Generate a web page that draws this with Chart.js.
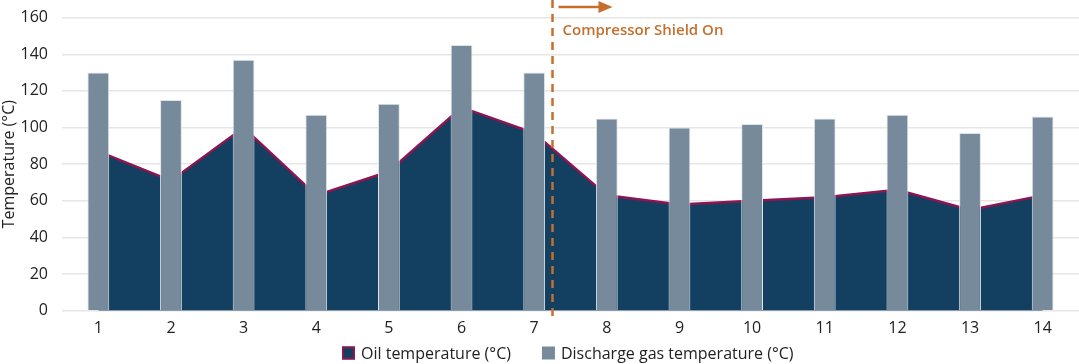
<!DOCTYPE html>
<html>
<head>
<meta charset="utf-8">
<script src="https://cdn.jsdelivr.net/npm/chart.js@4"></script>
<style>
  html, body { margin: 0; padding: 0; background: #fff; overflow: hidden; }
  #wrap { position: relative; top: -6px; width: 1079px; height: 370px; }
</style>
</head>
<body>
<div id="wrap"><canvas id="mycanvas"></canvas></div>
<script>
var days = ['1','2','3','4','5','6','7','8','9','10','11','12','13','14'];
var oilTemp = [87, 71, 100, 63, 76, 111, 97, 63, 58, 60, 62, 66, 55, 63];
var gasTemp = [130, 115, 137, 107, 113, 145, 130, 105, 100, 102, 105, 107, 97, 106];
var yTicks = [0, 20, 40, 60, 80, 100, 120, 140, 160];
var shieldAt = 6.25; // index position of the "shield on" marker
var shieldLabel = 'Compressor Shield On';

var orange = '#c56f2d';
var shift = 6; // canvas is moved up by 6px

var shieldPlugin = {
  id: 'shield',
  afterDatasetsDraw: function(chart) {
    var ctx = chart.ctx;
    var x = Math.round(chart.scales.x.getPixelForValue(shieldAt)) + 0.5;
    var top = shift;
    ctx.save();
    ctx.strokeStyle = orange;
    ctx.lineWidth = 2.5;
    ctx.setLineDash([8, 6]);
    ctx.beginPath();
    ctx.moveTo(x, top);
    ctx.lineTo(x, top + 322);
    ctx.stroke();
    ctx.setLineDash([]);
    // arrow
    ctx.beginPath();
    ctx.moveTo(x + 6, top + 7);
    ctx.lineTo(x + 48, top + 7);
    ctx.stroke();
    ctx.fillStyle = orange;
    ctx.beginPath();
    ctx.moveTo(x + 60, top + 7);
    ctx.lineTo(x + 46, top + 1);
    ctx.lineTo(x + 46, top + 13);
    ctx.closePath();
    ctx.fill();
    ctx.font = '600 15px "Open Sans"';
    ctx.textBaseline = 'middle';
    ctx.fillText(shieldLabel, x + 10, top + 31);
    ctx.restore();
  }
};

// legend drawn by hand so the gap between the two entries can be wider
var legendPlugin = {
  id: 'bottomLegend',
  afterDraw: function(chart) {
    var ctx = chart.ctx;
    var sets = chart.data.datasets;
    var box = 13, textGap = 6, itemGap = 31;
    var y = shift + 353;
    ctx.save();
    ctx.font = '16px "Open Sans"';
    ctx.textBaseline = 'middle';
    var widths = sets.map(function(ds) { return ctx.measureText(ds.label).width; });
    var total = 0;
    widths.forEach(function(w, i) { total += box + textGap + w + (i ? itemGap : 0); });
    var x = Math.round((chart.chartArea.left + chart.chartArea.right) / 2 - total / 2) - 3;
    sets.forEach(function(ds, i) {
      ctx.fillStyle = ds.backgroundColor;
      ctx.fillRect(x, y - box / 2, box, box);
      if (ds.type === 'line') {
        ctx.strokeStyle = ds.borderColor;
        ctx.lineWidth = 2;
        ctx.strokeRect(x + 1, y - box / 2 + 1, box - 2, box - 2);
      }
      ctx.fillStyle = '#222';
      ctx.fillText(ds.label, x + box + textGap, y + 1);
      x += box + textGap + widths[i] + itemGap;
    });
    ctx.restore();
  }
};

var font16 = { family: '"Open Sans"', size: 16 };

var ctx = document.getElementById('mycanvas');
var chart = new Chart(ctx, {
  type: 'bar',
  data: {
    labels: days,
    datasets: [
      {
        type: 'line',
        label: 'Oil temperature (°C)',
        data: oilTemp,
        backgroundColor: '#133f61',
        borderColor: '#8c1552',
        borderWidth: 2.5,
        fill: 'origin',
        tension: 0,
        pointRadius: 0,
        order: 2
      },
      {
        label: 'Discharge gas temperature (°C)',
        data: gasTemp,
        backgroundColor: '#778a9b',
        borderColor: '#dfe4e9',
        borderWidth: 1,
        barPercentage: 0.3,
        categoryPercentage: 1,
        order: 1
      }
    ]
  },
  plugins: [shieldPlugin, legendPlugin],
  options: {
    responsive: true,
    maintainAspectRatio: false,
    animation: false,
    layout: { padding: { top: 0, right: 0, left: 0, bottom: 18 } },
    plugins: {
      tooltip: { enabled: false },
      legend: { display: false }
    },
    scales: {
      x: {
        grid: { display: false, drawTicks: false },
        border: { display: false },
        ticks: { color: '#222', font: font16, padding: 8 }
      },
      y: {
        min: 0,
        max: 160,
        afterBuildTicks: function(axis) {
          axis.ticks = yTicks.map(function(v) { return { value: v }; });
        },
        afterFit: function(axis) { axis.width = 62; },
        grid: { color: '#e6e6e6', lineWidth: 1.5, drawTicks: false },
        border: { display: false },
        ticks: { color: '#222', font: font16, padding: 14 },
        title: {
          display: true,
          text: 'Temperature (°C)',
          color: '#222',
          font: font16,
          padding: { top: 0, bottom: 2 }
        }
      }
    }
  }
});
</script>
</body>
</html>
